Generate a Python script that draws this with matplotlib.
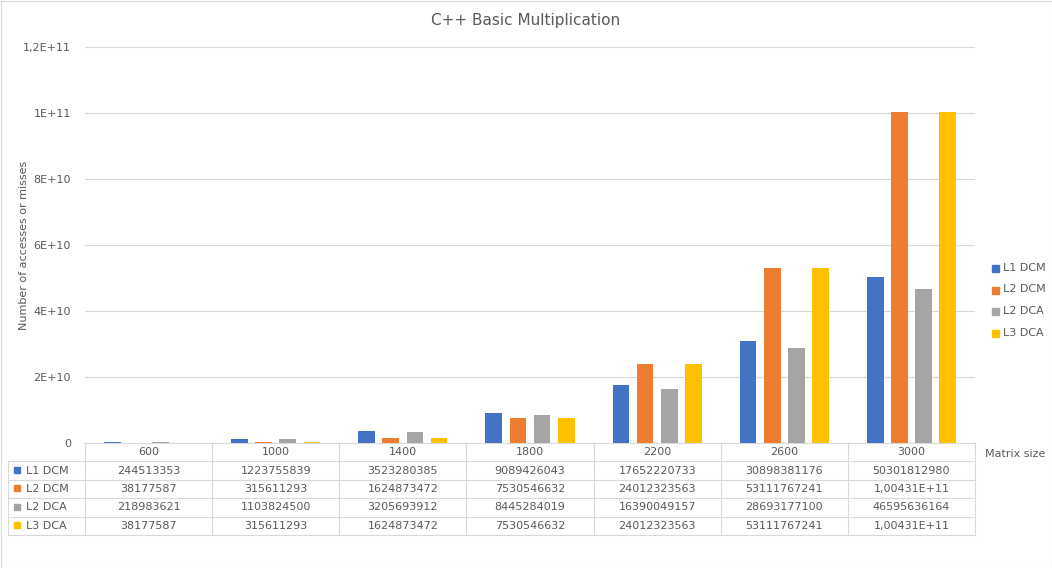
import matplotlib
matplotlib.use("Agg")
import matplotlib.pyplot as plt
from matplotlib.patches import Rectangle

categories = ["600", "1000", "1400", "1800", "2200", "2600", "3000"]
series = ["L1 DCM", "L2 DCM", "L2 DCA", "L3 DCA"]
colors = ["#4472C4", "#ED7D31", "#A5A5A5", "#FFC000"]
l1_dcm = [244513353, 1223755839, 3523280385, 9089426043, 17652220733, 30898381176, 50301812980]
l2_dcm = [38177587, 315611293, 1624873472, 7530546632, 24012323563, 53111767241, 100431000000]
l2_dca = [218983621, 1103824500, 3205693912, 8445284019, 16390049157, 28693177100, 46595636164]
l3_dca = [38177587, 315611293, 1624873472, 7530546632, 24012323563, 53111767241, 100431000000]
values = [l1_dcm, l2_dcm, l2_dca, l3_dca]
yticks = [0, 2e10, 4e10, 6e10, 8e10, 1e11, 1.2e11]
ytick_labels = ["0", "2E+10", "4E+10", "6E+10", "8E+10", "1E+11", "1,2E+11"]

def fmt(v):
    if v >= 1e11:
        return "1,00431E+11"
    return str(v)

W, H = 1052, 568
fig = plt.figure(figsize=(W/100, H/100), dpi=100)
ax = fig.add_axes([85/W, 1-443/H, 890/W, 396/H])
tc = "#595959"
for i, (name, vals, c) in enumerate(zip(series, values, colors)):
    xs = [j + (i-1.5)*0.19 for j in range(len(categories))]
    ax.bar(xs, vals, width=0.132, color=c, zorder=3)
ax.set_xlim(-0.5, 6.5)
ax.set_ylim(0, 1.2e11)
ax.set_yticks(yticks)
ax.set_yticklabels(ytick_labels, fontsize=8, color=tc)
ax.set_xticks([])
ax.grid(axis="y", color="#d9d9d9", lw=0.8, zorder=0)
for s in ax.spines.values():
    s.set_visible(False)
ax.tick_params(axis="y", length=0, pad=10)
fig.text(24/W, 1-245/H, "Number of accesses or misses", rotation=90, ha="center", va="center", fontsize=8, color=tc)
fig.text(0.5, 1-20/H, "C++ Basic Multiplication", ha="center", va="center", fontsize=11, color=tc)

# data table
rh = 18.4/396
lc = "#d9d9d9"
left = (8-85)/890*7 - 0.5
T = ax.get_xaxis_transform()
nrows = 5
for r in range(nrows+1):
    y = -r*rh
    x0 = -0.5 if r == 0 else left
    ax.plot([x0, 6.5], [y, y], transform=T, color=lc, lw=0.8, clip_on=False)
for k in range(8):
    x = k - 0.5
    ax.plot([x, x], [0, -nrows*rh], transform=T, color=lc, lw=0.8, clip_on=False)
ax.plot([left, left], [-rh, -nrows*rh], transform=T, color=lc, lw=0.8, clip_on=False)
for j, cat in enumerate(categories):
    ax.text(j, -0.5*rh, cat, transform=T, ha="center", va="center", fontsize=8, color=tc)
for i, (name, vals, c) in enumerate(zip(series, values, colors)):
    yc = -(i+1.5)*rh
    fig.patches.append(Rectangle((14/W, 1-(461+i*18.4+6+6)/H), 6/W, 6/H, color=c, transform=fig.transFigure))
    ax.text(left + 0.14, yc, name, transform=T, ha="left", va="center", fontsize=8, color=tc)
    for j, v in enumerate(vals):
        ax.text(j, yc, fmt(v), transform=T, ha="center", va="center", fontsize=8, color=tc)
fig.text(985/W, 1-454/H, "Matrix size", ha="left", va="center", fontsize=8, color=tc)

# legend
for i, (name, c) in enumerate(zip(series, colors)):
    y = 268 + i*21.5
    fig.patches.append(Rectangle((992/W, 1-(y+4)/H), 7/W, 7/H, color=c, transform=fig.transFigure))
    fig.text(1003/W, 1-y/H, name, ha="left", va="center", fontsize=8, color=tc)

fig.patches.append(Rectangle((0.5/W, 0.5/H), (W-1)/W, (H-1)/H, fill=False, ec="#d9d9d9", lw=0.8, transform=fig.transFigure))
fig.savefig("out.png", dpi=100)
